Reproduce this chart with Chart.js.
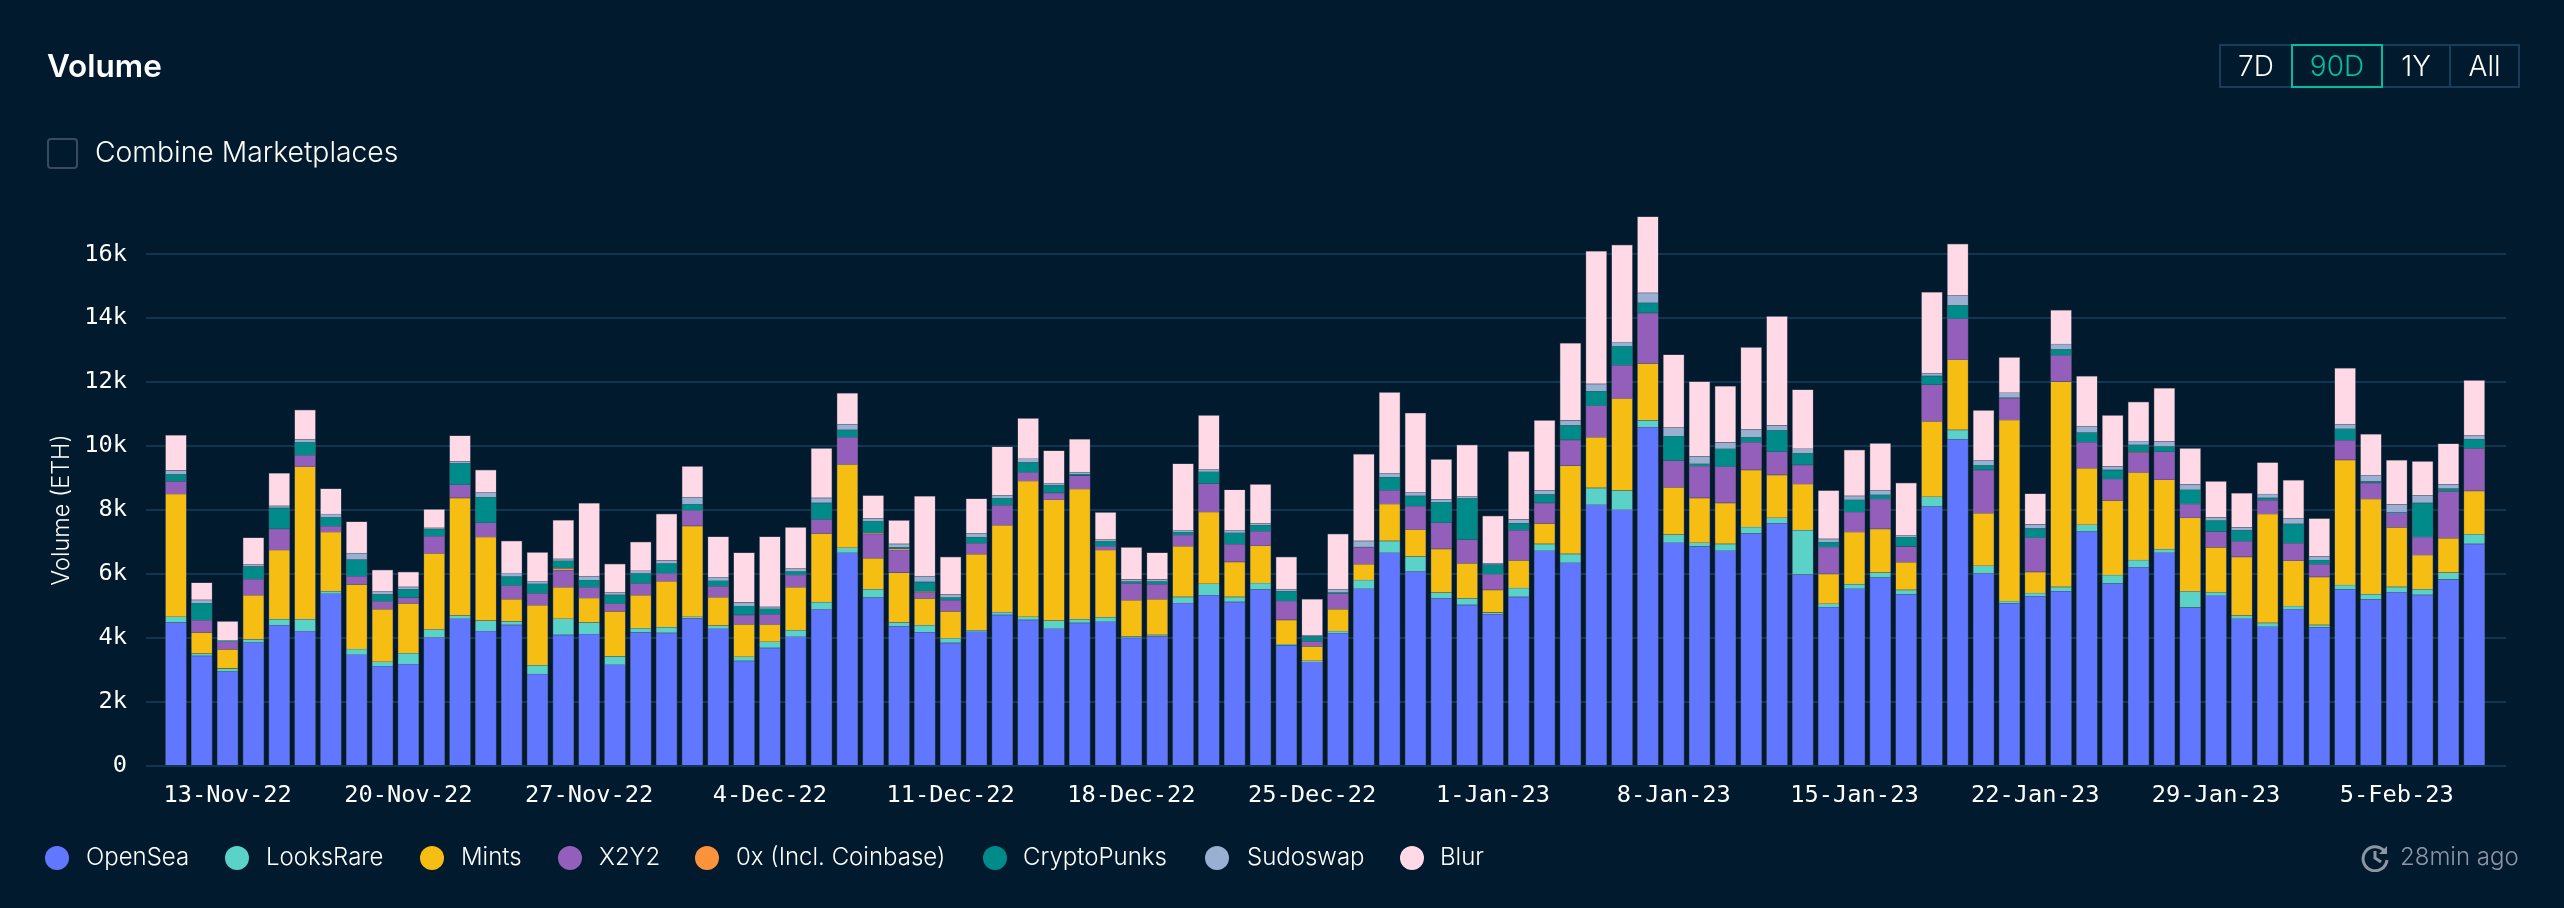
<!DOCTYPE html>
<html>
<head>
<meta charset="utf-8">
<title>Volume</title>
<script src="https://cdn.jsdelivr.net/npm/chart.js@4"></script>
<style>
  html, body { margin: 0; padding: 0; width: 2564px; height: 908px; overflow: hidden; background: #011a2e; color: #fff; font-family: Inter, sans-serif; }
  canvas { position: absolute; left: 0; top: 0; }
  #title { position: absolute; left: 47px; top: 48px; font-size: 31.5px; font-weight: 600; line-height: 36px; }
  #check { position: absolute; left: 47px; top: 138px; width: 27px; height: 27px; border: 2px solid #3a4a60; border-radius: 4px; }
  #checkLabel { position: absolute; left: 95px; top: 134px; font-size: 28.3px; line-height: 36px; font-weight: 300; }
  #range { position: absolute; left: 2219px; top: 44px; width: 301px; height: 44px; }
  #range div { position: absolute; top: 0; height: 40px; border: 2px solid #173d5a; text-align: center; font-size: 28px; font-weight: 300; line-height: 40px; box-sizing: content-box; }
  #range div.on { color: #00bfa0; border-color: #00bfa0; z-index: 1; }
  #yTitle { position: absolute; left: 60px; top: 510px; font-size: 23.5px; font-weight: 300; white-space: nowrap; transform: translate(-50%, -50%) rotate(-90deg); }
  #legend span { position: absolute; top: 842px; font-size: 24px; line-height: 30px; font-weight: 300; white-space: nowrap; }
  #legend i { position: absolute; top: 846px; width: 24px; height: 24px; border-radius: 50%; }
  #ago { position: absolute; left: 2400px; top: 842px; font-size: 24px; line-height: 30px; font-weight: 300; color: #8e95a5; }
  #clock { position: absolute; left: 2361px; top: 844px; }
</style>
</head>
<body>
<canvas id="volumeChart" width="2564" height="908"></canvas>
<div id="title">Volume</div>
<div id="check"></div>
<div id="checkLabel">Combine Marketplaces</div>
<div id="range">
  <div style="left:0;width:70px">7D</div>
  <div class="on" style="left:72px;width:88px">90D</div>
  <div style="left:162px;width:66px">1Y</div>
  <div style="left:230px;width:67px">All</div>
</div>
<div id="yTitle">Volume (ETH)</div>
<div id="legend"></div>
<svg id="clock" width="30" height="28" viewBox="0 0 30 28" fill="none" stroke="#8e95a5" stroke-width="3">
  <path d="M24 8 A12 12 0 1 0 26 16"/>
  <path d="M14 7 V14 L20 18"/>
  <path d="M26 2 V10 H18 Z" fill="#8e95a5" stroke="none"/>
</svg>
<div id="ago">28min ago</div>

<script>
'use strict';

///////// DATA /////////
// ETH per day, 11-Nov-22 to 8-Feb-23

let tickDays = [2, 9, 16, 23, 30, 37, 44, 51, 58, 65, 72, 79, 86];
let tickLabels = ['13-Nov-22', '20-Nov-22', '27-Nov-22', '4-Dec-22', '11-Dec-22', '18-Dec-22', '25-Dec-22', '1-Jan-23', '8-Jan-23', '15-Jan-23', '22-Jan-23', '29-Jan-23', '5-Feb-23'];
let yTicks = [0, 2000, 4000, 6000, 8000, 10000, 12000, 14000, 16000];

let seriesNames = ['OpenSea', 'LooksRare', 'Mints', 'X2Y2', '0x (Incl. Coinbase)', 'CryptoPunks', 'Sudoswap', 'Blur'];
let seriesColors = ['#6177ff', '#5bd2c8', '#f6bd12', '#945fbb', '#fb923c', '#008b8b', '#9ab0d3', '#ffd9e6'];

let openSea = [4488, 3444, 2952, 3864, 4404, 4224, 5388, 3480, 3120, 3192, 4020, 4608, 4224, 4416, 2880, 4104, 4128, 3168, 4176, 4164, 4620,
  4296, 3288, 3696, 4044, 4896, 6672, 5268, 4368, 4188, 3852, 4200, 4728, 4572, 4296, 4476, 4512, 4008, 4056, 5100, 5340, 5136, 5520, 3768, 3264, 4152,
  5544, 6672, 6084, 5244, 5040, 4752, 5292, 6732, 6360, 8172, 8016, 10596, 6984, 6864, 6732, 7272, 7596, 5988, 4968, 5544, 5892, 5364, 8112, 10224,
  6024, 5088, 5316, 5472, 7332, 5712, 6216, 6672, 4956, 5328, 4608, 4356, 4896, 4332, 5520, 5208, 5436, 5352, 5832, 6948];
let looksRare = [180, 72, 96, 96, 192, 372, 84, 180, 144, 336, 252, 96, 324, 108, 276, 504, 360, 264, 132, 180, 48,
  96, 132, 192, 204, 228, 156, 264, 120, 216, 144, 48, 84, 96, 252, 120, 144, 48, 48, 192, 360, 156, 204, 48, 24, 72,
  276, 372, 468, 180, 204, 48, 276, 216, 276, 528, 600, 216, 252, 120, 216, 204, 168, 1392, 108, 144, 156, 144, 312, 288,
  240, 72, 96, 132, 216, 264, 228, 108, 504, 108, 96, 120, 108, 84, 144, 168, 168, 180, 216, 300];
let mints = [3840, 660, 600, 1380, 2160, 4764, 1848, 2016, 1644, 1560, 2376, 3684, 2616, 696, 1872, 984, 768, 1404, 1032, 1440, 2844,
  888, 1008, 540, 1344, 2148, 2604, 972, 1560, 840, 840, 2376, 2724, 4248, 3780, 4068, 2100, 1128, 1116, 1584, 2244, 1092, 1164, 756, 456, 684,
  492, 1152, 840, 1368, 1092, 708, 864, 636, 2760, 1584, 2880, 1776, 1476, 1404, 1284, 1788, 1344, 1440, 936, 1632, 1368, 864, 2352, 2196,
  1644, 5664, 660, 6420, 1764, 2328, 2736, 2172, 2304, 1404, 1836, 3408, 1416, 1500, 3912, 2976, 1860, 1068, 1080, 1356];
let x2y2 = [396, 384, 240, 504, 660, 360, 180, 264, 240, 180, 540, 408, 444, 420, 372, 528, 336, 240, 372, 240, 480,
  348, 300, 324, 384, 444, 852, 756, 708, 180, 348, 336, 624, 264, 216, 420, 120, 528, 468, 348, 888, 552, 456, 588, 156, 480,
  528, 432, 732, 816, 744, 492, 948, 648, 804, 984, 1044, 1584, 840, 996, 1128, 864, 720, 600, 840, 624, 936, 492, 1152, 1284,
  1356, 684, 1068, 816, 816, 672, 624, 876, 432, 492, 492, 432, 552, 396, 612, 504, 456, 564, 1464, 1332];
let zeroEx = [0, 0, 0, 0, 0, 0, 0, 0, 0, 0, 0, 0, 0, 0, 0, 60, 0, 0, 0, 0, 0,
  0, 0, 0, 0, 0, 0, 36, 36, 36, 0, 0, 0, 0, 0, 0, 0, 0, 0, 0, 0, 0, 0, 0, 0, 0,
  0, 0, 0, 0, 0, 0, 0, 0, 0, 0, 0, 0, 0, 0, 0, 0, 0, 0, 0, 0, 0, 0, 0, 0,
  0, 0, 0, 0, 0, 0, 24, 0, 0, 0, 0, 0, 0, 0, 0, 0, 0, 0, 0, 0];
let cryptoPunks = [216, 540, 24, 396, 660, 408, 276, 516, 216, 264, 228, 672, 804, 288, 300, 240, 228, 276, 312, 312, 204,
  168, 276, 168, 108, 516, 228, 360, 60, 300, 84, 204, 216, 312, 240, 48, 156, 60, 84, 96, 372, 360, 192, 312, 156, 36,
  12, 408, 324, 648, 1296, 300, 216, 264, 456, 456, 588, 312, 768, 72, 564, 156, 672, 360, 156, 384, 132, 300, 276, 420,
  144, 12, 288, 192, 300, 288, 216, 168, 444, 348, 348, 72, 600, 132, 360, 48, 24, 1068, 84, 288];
let sudoswap = [120, 96, 12, 60, 60, 96, 108, 204, 96, 72, 36, 60, 144, 108, 72, 60, 120, 72, 84, 96, 216,
  108, 108, 60, 96, 156, 180, 84, 96, 180, 96, 108, 84, 120, 60, 60, 48, 60, 60, 48, 72, 72, 48, 60, 36, 108,
  192, 120, 108, 84, 60, 48, 120, 120, 156, 228, 132, 312, 264, 228, 192, 240, 156, 144, 96, 120, 144, 48, 84, 300,
  156, 156, 132, 168, 204, 108, 120, 156, 168, 96, 84, 120, 180, 108, 144, 192, 240, 228, 132, 108];
let blur = [1104, 540, 600, 840, 1020, 912, 792, 984, 672, 468, 576, 804, 708, 1008, 912, 1212, 2280, 900, 900, 1452, 960,
  1272, 1560, 2196, 1284, 1548, 972, 720, 732, 2496, 1176, 1092, 1524, 1260, 1020, 1032, 852, 1008, 840, 2088, 1692, 1272, 1224, 1008, 1128, 1728,
  2712, 2532, 2484, 1248, 1608, 1476, 2124, 2196, 2412, 4152, 3036, 2388, 2280, 2340, 1764, 2568, 3408, 1848, 1512, 1440, 1464, 1644, 2532, 1620,
  1560, 1104, 960, 1056, 1560, 1596, 1224, 1668, 1128, 1128, 1068, 984, 1188, 1188, 1752, 1284, 1380, 1068, 1272, 1728];

let seriesValues = [openSea, looksRare, mints, x2y2, zeroEx, cryptoPunks, sudoswap, blur];

///////// LEGEND /////////
// x of dot and text for each name, legend sits outside the canvas

let legendDots = [45, 225, 420, 558, 695, 983, 1205, 1400];
let legendTexts = [86, 266, 461, 599, 736, 1023, 1247, 1440];

let legendBox = document.getElementById('legend');
for (let i = 0; i < seriesNames.length; i++) {
  let dot = document.createElement('i');
  dot.style.left = legendDots[i] + 'px';
  dot.style.background = seriesColors[i];
  legendBox.appendChild(dot);
  let txt = document.createElement('span');
  txt.style.left = legendTexts[i] + 'px';
  txt.textContent = seriesNames[i];
  legendBox.appendChild(txt);
}

///////// CHART /////////

let datasets = [];
for (let i = 0; i < seriesNames.length; i++) {
  datasets.push({
    label: seriesNames[i],
    data: seriesValues[i].map((v, day) => ({ x: day, y: v })),
    backgroundColor: seriesColors[i],
    borderColor: 'rgba(150,150,165,0.45)',
    borderWidth: 0.7,
    barThickness: 21
  });
}

new Chart(document.getElementById('volumeChart'), {
  type: 'bar',
  data: { datasets: datasets },
  options: {
    responsive: false,
    animation: false,
    devicePixelRatio: 1,
    layout: { padding: { left: 0, right: 58, top: 216, bottom: 0 } },
    plugins: { legend: { display: false }, tooltip: { enabled: false } },
    scales: {
      x: {
        type: 'linear',
        stacked: true,
        offset: false, // bar charts turn this on by default, throws the range off
        min: -1.16,
        max: 90.23,
        afterBuildTicks: (scale) => { scale.ticks = tickDays.map((d) => ({ value: d })); },
        afterFit: (scale) => { scale.height = 142; },
        grid: { display: false },
        border: { display: false },
        ticks: {
          autoSkip: false,
          maxRotation: 0,
          color: '#fff',
          padding: 8,
          font: { family: '"DejaVu Sans Mono", monospace', size: 23.7 },
          callback: (value) => tickLabels[tickDays.indexOf(value)]
        }
      },
      y: {
        stacked: true,
        min: 0,
        max: 17200,
        afterBuildTicks: (scale) => { scale.ticks = yTicks.map((v) => ({ value: v })); },
        afterFit: (scale) => { scale.width = 146; },
        grid: { color: '#133650', lineWidth: 2, drawTicks: false },
        border: { display: false },
        ticks: {
          color: '#fff',
          padding: 19,
          font: { family: '"DejaVu Sans Mono", monospace', size: 23.7 },
          callback: (value) => (value === 0 ? '0' : value / 1000 + 'k')
        }
      }
    }
  }
});
</script>
</body>
</html>
